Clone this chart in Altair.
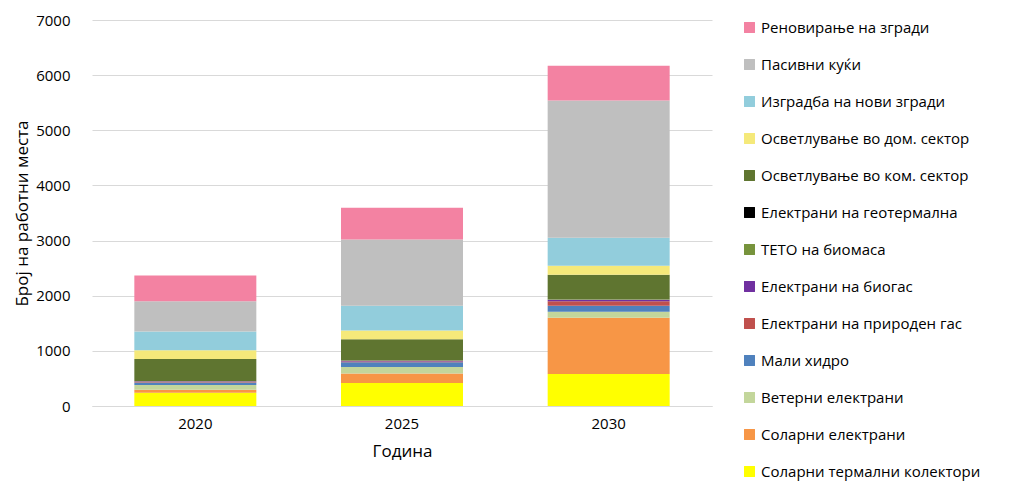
import altair as alt
import pandas as pd

years = ["2020", "2025", "2030"]
series = ["Соларни термални колектори", "Соларни електрани", "Ветерни електрани", "Мали хидро",
          "Електрани на природен гас", "Електрани на биогас", "ТЕТО на биомаса",
          "Електрани на геотермална", "Осветлување во ком. сектор", "Осветлување во дом. сектор",
          "Изградба на нови згради", "Пасивни куќи", "Реновирање на згради"]
colors = ["#ffff00", "#f79646", "#c3d69b", "#4f81bd", "#c0504d", "#7030a0", "#77933c",
          "#000000", "#5f7530", "#f5e97a", "#92cddc", "#bfbfbf", "#f382a2"]
values = {
    "2020": [240, 55, 85, 48, 10, 10, 5, 0, 400, 157, 340, 550, 465],
    "2025": [415, 175, 115, 90, 10, 15, 5, 0, 385, 160, 450, 1200, 575],
    "2030": [580, 1020, 108, 108, 84, 25, 10, 0, 445, 163, 507, 2490, 630],
}
rows = []
for y in years:
    for i, s in enumerate(series):
        rows.append({"Година": y, "s": s, "v": values[y][i], "o": i})
df = pd.DataFrame(rows)

chart = alt.Chart(df).mark_bar(size=122).encode(
    x=alt.X("Година:N", title="Година", scale=alt.Scale(paddingInner=0.42, paddingOuter=0.21),
            axis=alt.Axis(labelAngle=0, ticks=False, grid=False, domainColor="#d9d9d9", labelFontSize=15,
                          titleFontSize=17, titleFontWeight="normal", titlePadding=12, labelPadding=10)),
    y=alt.Y("v:Q", stack="zero", title="Број на работни места",
            scale=alt.Scale(domain=[0, 7000]),
            axis=alt.Axis(values=list(range(0, 7001, 1000)), format="d", domain=False, ticks=False,
                          gridColor="#d9d9d9", labelFontSize=15, titleFontSize=17,
                          titleFontWeight="normal", labelPadding=22)),
    color=alt.Color("s:N", scale=alt.Scale(domain=series[::-1], range=colors[::-1]),
                    legend=alt.Legend(title=None, symbolType="square", symbolSize=120,
                                      labelFontSize=15, rowPadding=21, labelLimit=300,
                                      offset=30, symbolStrokeWidth=0)),
    order=alt.Order("o:Q"),
).properties(width=620, height=386).configure(
    font="Open Sans", view=alt.ViewConfig(stroke="transparent"))

chart.save("out.html", embed_options={"renderer": "svg", "actions": False})
